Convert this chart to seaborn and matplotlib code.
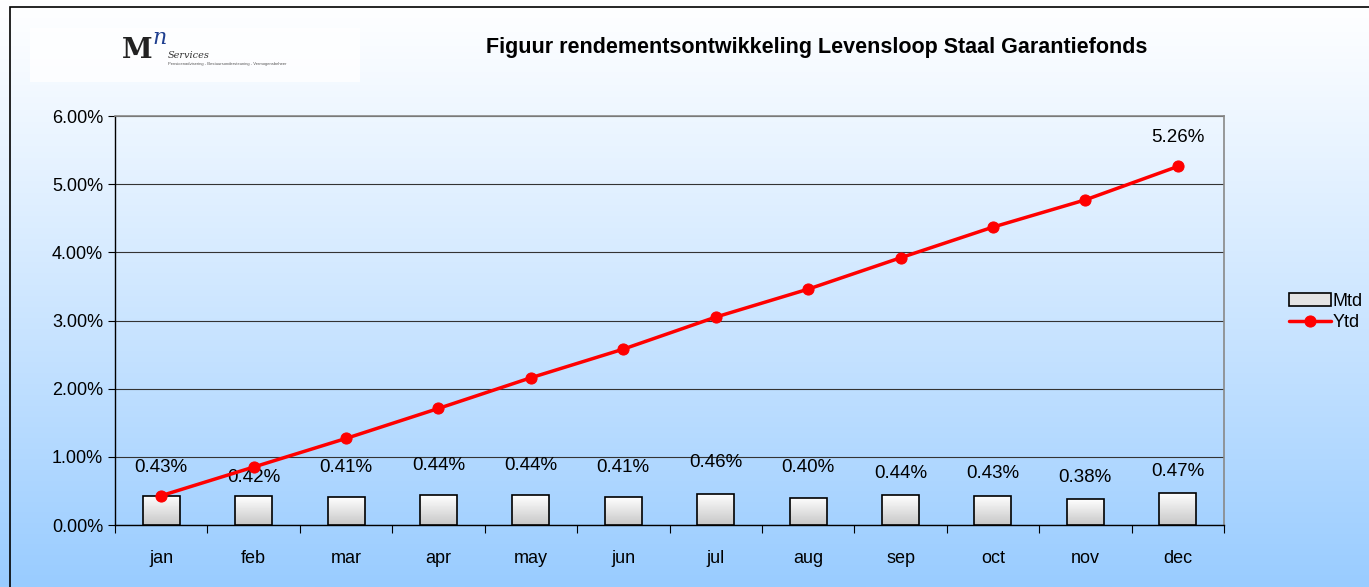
import matplotlib
matplotlib.use("Agg")
import matplotlib.pyplot as plt
import numpy as np
import pandas as pd
import seaborn as sns
from matplotlib.patches import Rectangle

months = ["jan", "feb", "mar", "apr", "may", "jun", "jul", "aug", "sep", "oct", "nov", "dec"]
mtd = [0.43, 0.42, 0.41, 0.44, 0.44, 0.41, 0.46, 0.40, 0.44, 0.43, 0.38, 0.47]
ytd = [0.43, 0.85, 1.27, 1.71, 2.16, 2.58, 3.05, 3.46, 3.92, 4.37, 4.77, 5.26]

df = pd.DataFrame({"month": months, "Mtd": mtd, "Ytd": ytd})

sns.set_style("white")
plt.rcParams["font.family"] = ["Liberation Sans", "DejaVu Sans"]
plt.rcParams["text.color"] = "black"
plt.rcParams["xtick.color"] = "black"
plt.rcParams["ytick.color"] = "black"

fig = plt.figure(figsize=(13.69, 5.87), dpi=100)

# background gradient: white at top -> light blue at bottom
bg = fig.add_axes([0, 0, 1, 1], zorder=-10)
grad = np.linspace(0, 1, 256).reshape(-1, 1)
top = np.array([1.0, 1.0, 1.0])
bot = np.array([0x99, 0xCC, 0xFF]) / 255
img = top + (bot - top) * grad[:, :, None] ** 1.1
bg.imshow(img, aspect="auto", extent=[0, 1, 0, 1], origin="upper")
bg.set_xlim(0, 1)
bg.set_ylim(0, 1)
bg.axis("off")
# outer frame (top/left edges visible)
bg.add_patch(Rectangle((10 / 1369, -0.1), 1.2, 1 - 7 / 587 + 0.1, fill=False,
                       edgecolor="black", lw=1.2, transform=bg.transAxes))
# logo box
bg.add_patch(Rectangle((30 / 1369, 1 - 82 / 587), 330 / 1369, 54 / 587,
                       facecolor="white", edgecolor="none", alpha=0.8))
bg.text(122 / 1369, 1 - 50 / 587, "M", fontsize=20, fontweight="bold",
        family="DejaVu Serif", color="#222222", va="center")
bg.text(152 / 1369, 1 - 38 / 587, "n", fontsize=16, style="italic",
        family="DejaVu Serif", color="#1f3f8f", va="center")
bg.text(168 / 1369, 1 - 55 / 587, "Services", fontsize=7, style="italic",
        family="DejaVu Serif", color="#333333", va="center")
bg.text(168 / 1369, 1 - 64 / 587,
        "Pensioenadvisering - Bestuursondersteuning - Vermogensbeheer",
        fontsize=3, color="#555555", va="center")

ax = fig.add_axes([115 / 1369, 1 - 525 / 587, (1224 - 115) / 1369, (525 - 116) / 587])
ax.patch.set_alpha(0)

sns.barplot(data=df, x="month", y="Mtd", ax=ax, color="#e6e6e6", width=0.4,
            edgecolor="black", linewidth=1.2, saturation=1, zorder=3, label="Mtd")
sns.lineplot(data=df, x="month", y="Ytd", ax=ax, color="#ff0000", lw=2.5,
             marker="o", markersize=8, markeredgecolor="#ff0000", zorder=4,
             label="Ytd", sort=False)

# grey gradient inside bars
bar_grad = np.linspace(1.0, 0.78, 64).reshape(-1, 1)
for p in ax.patches:
    x0, y0, w, h = p.get_x(), p.get_y(), p.get_width(), p.get_height()
    im = ax.imshow(bar_grad, cmap="gray", vmin=0, vmax=1, aspect="auto",
                   extent=[x0, x0 + w, y0, y0 + h], origin="upper", zorder=3.1)
    im.set_clip_path(p)
    p.set_facecolor("none")
    p.set_zorder(3.2)

# label offsets above the bars (as in the original layout)
label_off = [0.42, 0.27, 0.44, 0.44, 0.44, 0.44, 0.45, 0.44, 0.31, 0.32, 0.32, 0.31]
for i, v in enumerate(mtd):
    ax.text(i, v + label_off[i], f"{v:.2f}%", ha="center", va="center", fontsize=13.5)
ax.text(11, ytd[-1] + 0.42, f"{ytd[-1]:.2f}%", ha="center", va="center", fontsize=13.5)

ax.set_ylim(0, 6)
ax.set_xlim(-0.5, 11.5)
ax.set_yticks(np.arange(0, 6.01, 1))
ax.set_yticklabels([f"{t:.2f}%" for t in np.arange(0, 6.01, 1)], fontsize=13)
ax.set_xticks(range(12))
ax.set_xticklabels(months, fontsize=13)
ax.set_xlabel("")
ax.set_ylabel("")
ax.grid(axis="y", color="#333333", lw=0.8, zorder=0)
ax.set_axisbelow(True)
ax.tick_params(axis="x", length=0, pad=18)
ax.tick_params(axis="y", length=5, direction="out", left=True, width=0.8)
# category boundary ticks on x axis
ax.set_xticks(np.arange(-0.5, 12, 1), minor=True)
ax.tick_params(axis="x", which="minor", length=6, direction="out", bottom=True, width=0.8)
for s in ["top", "right"]:
    ax.spines[s].set_color("#888888")
    ax.spines[s].set_linewidth(1.2)
for s in ["left", "bottom"]:
    ax.spines[s].set_color("black")
    ax.spines[s].set_linewidth(1)

h, l = ax.get_legend_handles_labels()
order = [l.index("Mtd"), l.index("Ytd")]
leg = ax.legend([h[i] for i in order], [l[i] for i in order], loc="center left",
                bbox_to_anchor=((1289 - 115) / 1109, (525 - 312) / 409), frameon=False,
                fontsize=13, handlelength=2.3, handletextpad=0.1, labelspacing=0.25,
                borderpad=0, borderaxespad=0)
leg.legend_handles[0].set_facecolor("#e4e4e4")

fig.text(817 / 1369, 1 - 48 / 587, "Figuur rendementsontwikkeling Levensloop Staal Garantiefonds",
         ha="center", va="center", fontsize=15.5, fontweight="bold")

fig.savefig("out.png", dpi=100)
